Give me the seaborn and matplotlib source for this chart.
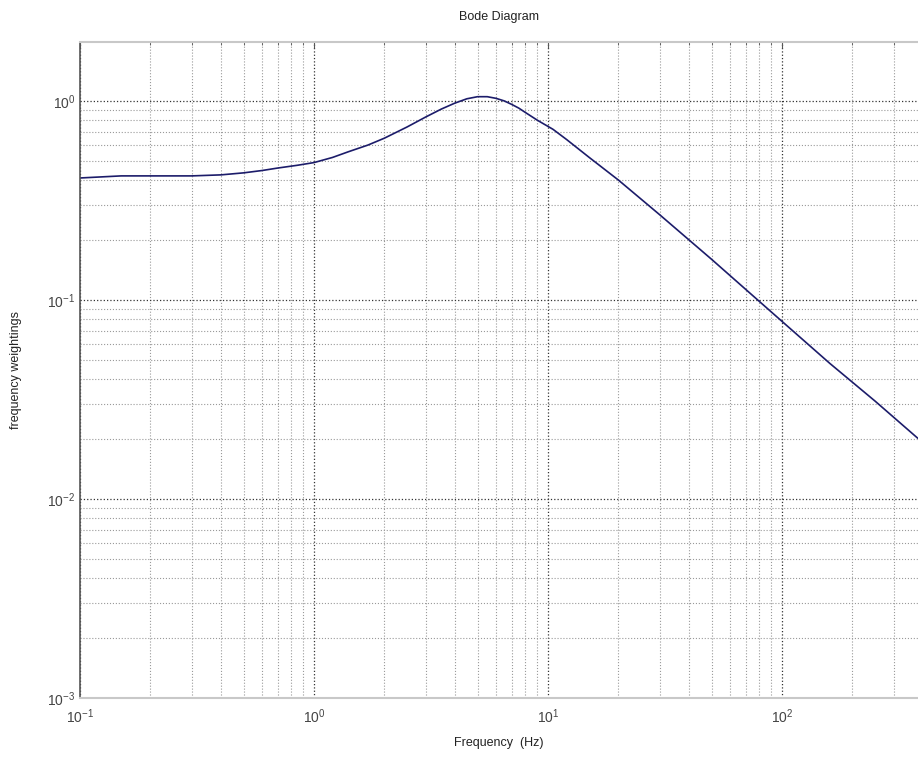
import numpy as np
import pandas as pd
import matplotlib
matplotlib.use("Agg")
import matplotlib.pyplot as plt
import seaborn as sns
from matplotlib.ticker import LogLocator, NullFormatter

# Data
freq_hz = [0.1, 0.15, 0.2, 0.3, 0.4, 0.5, 0.6, 0.7, 0.85, 1.0, 1.2, 1.4, 1.7, 2.0, 2.5, 3.0,
           3.5, 4.0, 4.5, 5.0, 5.5, 6.0, 6.5, 7.0, 7.5, 8.0, 9.0, 10.5, 12.0, 15.0, 20.0,
           30.0, 50.0, 90.0, 160.0, 250.0, 380.0]
magnitude = [0.41, 0.42, 0.42, 0.42, 0.425, 0.435, 0.447, 0.46, 0.475, 0.49, 0.52, 0.555, 0.60,
             0.65, 0.74, 0.83, 0.91, 0.975, 1.025, 1.05, 1.05, 1.03, 1.0, 0.96, 0.92, 0.875,
             0.80, 0.72, 0.64, 0.52, 0.40, 0.268, 0.16, 0.087, 0.048, 0.031, 0.0202]

title = "Bode Diagram"
xlabel = "Frequency  (Hz)"
ylabel = "frequency weightings"

df = pd.DataFrame({"f": freq_hz, "m": magnitude})

sns.set_style("white")
plt.rcParams["font.family"] = ["Liberation Sans", "DejaVu Sans"]

fig = plt.figure(figsize=(9.18, 7.70), dpi=100)
ax = fig.add_axes([80/918, 1-698/770, 1-80/918, (698-42)/770])

ax.set_xscale("log")
ax.set_yscale("log")
sns.lineplot(data=df, x="f", y="m", ax=ax, color="#1c1c6a", linewidth=1.2)

ax.set_xlim(0.1, 10**2.581)
ax.set_ylim(1e-3, 10**0.296)

ax.xaxis.set_major_locator(LogLocator(base=10, numticks=10))
ax.yaxis.set_major_locator(LogLocator(base=10, numticks=10))
ax.xaxis.set_minor_locator(LogLocator(base=10, subs=np.arange(2, 10), numticks=20))
ax.yaxis.set_minor_locator(LogLocator(base=10, subs=np.arange(2, 10), numticks=20))
ax.xaxis.set_minor_formatter(NullFormatter())
ax.yaxis.set_minor_formatter(NullFormatter())

ax.grid(True, which="major", linestyle=":", color="#333333", linewidth=0.9)
ax.grid(True, which="minor", linestyle=":", color="#9a9a9a", linewidth=0.8)

ax.tick_params(which="both", direction="in", colors="#555555", labelcolor="#444444",
               labelsize=10, top=True)
ax.tick_params(which="major", length=4)
ax.tick_params(which="minor", length=2)
ax.tick_params(axis="x", pad=7)

ax.spines["right"].set_visible(False)
ax.spines["left"].set_color("#555555")
ax.spines["left"].set_linewidth(1.2)
ax.spines["top"].set_color("#c8c8c8")
ax.spines["top"].set_linewidth(1.5)
ax.spines["bottom"].set_color("#c8c8c8")
ax.spines["bottom"].set_linewidth(1.5)

ax.set_title(title, fontsize=9, color="#222222", pad=16)
ax.set_xlabel(xlabel, fontsize=9, color="#222222", labelpad=8)
ax.set_ylabel(ylabel, fontsize=9, color="#222222", labelpad=18)

fig.savefig("out.png", dpi=100)
